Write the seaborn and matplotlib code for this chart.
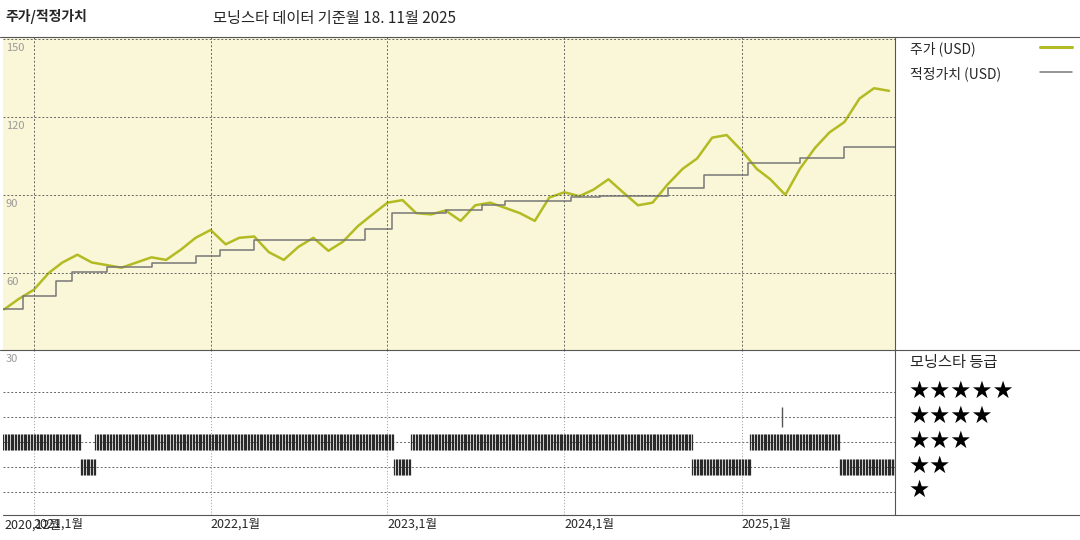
import pandas as pd
import numpy as np
import matplotlib.pyplot as plt
import matplotlib.dates as mdates
import seaborn as sns

sns.set_theme(style="white")
plt.rcParams['font.family'] = ['Noto Sans CJK KR', 'DejaVu Sans']

# monthly price (USD)
price_months = pd.date_range('2020-11-01', '2025-11-01', freq='MS')
price_values = [46, 50, 53.5, 60, 64, 67, 64, 63, 62, 64, 66, 65, 69, 73.5,
                76.5, 71, 73.5, 74, 68, 65, 70, 73.5, 68.5, 72, 78, 82.5,
                87, 88, 83, 82.5, 84, 80, 86, 87, 85, 83, 80, 89,
                91, 89.5, 92, 96, 91, 86, 87, 94, 100, 104, 112, 113,
                107, 100, 96, 90, 100, 108, 114, 118, 127, 131, 130]

# fair value steps
fv_dates = ['2020-10-30', '2020-12-10', '2021-02-15', '2021-03-20', '2021-06-01',
            '2021-09-01', '2021-12-01', '2022-01-20', '2022-04-01', '2022-11-15',
            '2023-01-10', '2023-05-01', '2023-07-15', '2023-09-01', '2024-01-15',
            '2024-03-15', '2024-08-01', '2024-10-15', '2025-01-15', '2025-05-01',
            '2025-08-01', '2025-11-14']
fv_values = [46, 51, 57, 60.5, 62.3, 64, 66.5, 69, 72.5, 77, 83, 84, 86, 87.5,
             89, 89.6, 92.7, 97.7, 102.3, 104, 108.5, 108.5]

# star rating periods
rating_start = ['2020-10-30', '2021-04-08', '2021-05-08', '2023-01-15', '2023-02-19',
                '2024-09-21', '2025-01-19', '2025-07-22']
rating_end = ['2021-04-08', '2021-05-08', '2023-01-15', '2023-02-19', '2024-09-21',
              '2025-01-19', '2025-07-22', '2025-11-14']
rating_value = [3, 2, 3, 2, 3, 2, 3, 2]
four_star_day = '2025-03-26'

price = pd.DataFrame({'date': price_months, 'price': price_values})
fv = pd.DataFrame({'date': pd.to_datetime(fv_dates), 'fv': fv_values})

fig = plt.figure(figsize=(10.8, 5.4), dpi=100)
ax = fig.add_axes([0.003, 0.352, 0.826, 0.58])
ax2 = fig.add_axes([0.003, 0.046, 0.826, 0.306], sharex=ax)

xmin, xmax = pd.Timestamp('2020-10-30'), pd.Timestamp('2025-11-14')
ax.set_facecolor('#faf6d8')
sns.lineplot(data=price, x='date', y='price', ax=ax, color='#b3bb22', linewidth=1.8)
ax.step(fv['date'], fv['fv'], where='post', color='#777777', linewidth=1.1)
ax.set_xlim(xmin, xmax)
ax.set_ylim(30.4, 150.8)
for v in [60, 90, 120, 150]:
    ax.axhline(v, color='#666666', linestyle=(0, (2, 2)), linewidth=0.7)
    ax.text(0.003, v - 1.5, str(v), transform=ax.get_yaxis_transform(),
            fontsize=8, color='#999999', va='top')
years = pd.to_datetime(['2021-01-01', '2022-01-01', '2023-01-01', '2024-01-01', '2025-01-01'])
for d in years:
    ax.axvline(d, color='#666666', linestyle=(0, (2, 2)), linewidth=0.7)
    ax2.axvline(d, color='#999999', linestyle=(0, (1, 2)), linewidth=0.7)
ax.set_xlabel('')
ax.set_ylabel('')
ax.set_yticks([])
ax.tick_params(labelbottom=False, bottom=False)
for s in ax.spines.values():
    s.set_visible(False)

# rating panel
ax2.set_ylim(0.08, 6.68)
for r in [1, 2, 3, 4, 5]:
    ax2.axhline(r, color='#666666', linestyle=(0, (2, 2)), linewidth=0.7)
for s, e, r in zip(rating_start, rating_end, rating_value):
    days = pd.date_range(s, e, freq='3D')
    ax2.vlines(days, r - 0.32, r + 0.32, color='#2a2a2a', linewidth=0.9)
ax2.vlines([pd.Timestamp(four_star_day)], 3.6, 4.4, color='#555555', linewidth=1)
ax2.text(0.003, 6.5, '30', transform=ax2.get_yaxis_transform(), fontsize=8,
         color='#999999', va='top')
ax2.set_yticks([])
ax2.set_xticks(years)
ax2.set_xticklabels([f'{d.year},1월' for d in years], fontsize=9, ha='left')
ax2.tick_params(axis='x', length=0, pad=2)
ax2.text(pd.Timestamp('2020-11-02'), -0.02, '2020,12월', fontsize=9, va='top',
         transform=ax2.get_xaxis_transform())
for s in ax2.spines.values():
    s.set_visible(False)

# frame lines
for y in [1 - 37 / 540, 1 - 350 / 540]:
    fig.add_artist(plt.Line2D([0, 1], [y, y], color='#555555', linewidth=0.8))
fig.add_artist(plt.Line2D([0.003, 1], [1 - 515 / 540] * 2, color='#555555', linewidth=0.8))
fig.add_artist(plt.Line2D([895 / 1080] * 2, [1 - 37 / 540, 1 - 515 / 540], color='#555555', linewidth=0.8))

fig.text(5 / 1080, 1 - 17 / 540, '주가/적정가치', fontsize=10, fontweight='bold', va='center')
fig.text(213 / 1080, 1 - 19 / 540, '모닝스타 데이터 기준월 18. 11월 2025', fontsize=11, va='center')
fig.text(910 / 1080, 1 - 49 / 540, '주가 (USD)', fontsize=10, va='center')
fig.add_artist(plt.Line2D([1040 / 1080, 1072 / 1080], [1 - 47 / 540] * 2, color='#b3bb22', linewidth=2.2))
fig.text(910 / 1080, 1 - 74 / 540, '적정가치 (USD)', fontsize=10, va='center')
fig.add_artist(plt.Line2D([1040 / 1080, 1072 / 1080], [1 - 72 / 540] * 2, color='#777777', linewidth=1.1))
fig.text(910 / 1080, 1 - 363 / 540, '모닝스타 등급', fontsize=11, va='center')
for r, y in zip([5, 4, 3, 2, 1], [391, 416, 441, 466, 490]):
    fig.text(908 / 1080, 1 - y / 540, '★' * r, fontsize=17, va='center',
             color='black', family=['DejaVu Sans'])

fig.savefig('out.png', dpi=100)
